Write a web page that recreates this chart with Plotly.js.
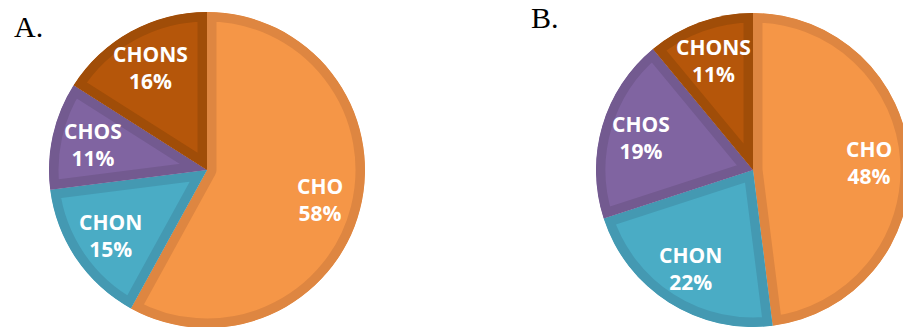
<!DOCTYPE html>
<html>
<head>
<meta charset="utf-8">
<script src="https://cdn.plot.ly/plotly-3.0.1.min.js"></script>
<style>
  html, body { margin: 0; padding: 0; overflow: hidden; background: #ffffff; }
  #chart { width: 920px; height: 330px; }
</style>
</head>
<body>
<div id="chart"></div>
<script>
// Elemental composition classes and their shares (%) in the two samples
const groups  = ['CHO', 'CHON', 'CHOS', 'CHONS'];
const sampleA = [58, 15, 11, 16];
const sampleB = [48, 22, 19, 11];
const panelTags = ['A.', 'B.'];

// Slice fills and their darker inner rims
const fillColors = ['#F59647', '#4AACC5', '#8064A1', '#B5560A'];
const rimColors  = ['#DE8641', '#4499B2', '#735A90', '#A04D08'];

const W = 920, H = 330;

// Pie placement in pixels (centre and radius) for each panel
const panels = [
  { cx: 207, cy: 170, r: 158, values: sampleA, tag: panelTags[0], tagX: 12,  tagY: 45 },
  { cx: 753, cy: 170, r: 157, values: sampleB, tag: panelTags[1], tagX: 529, tagY: 36 }
];

const labelRadius = 0.74;   // label distance from centre, as a share of the radius

const data = [];
const annotations = [];

panels.forEach(p => {
  data.push({
    type: 'pie',
    values: p.values,
    labels: groups,
    sort: false,
    direction: 'clockwise',
    rotation: 0,
    textinfo: 'none',
    hoverinfo: 'none',
    showlegend: false,
    marker: { colors: fillColors, line: { color: rimColors, width: 19 } },
    domain: {
      x: [(p.cx - p.r) / W, (p.cx + p.r) / W],
      y: [1 - (p.cy + p.r) / H, 1 - (p.cy - p.r) / H]
    }
  });

  // slice labels on each slice's bisector
  const total = p.values.reduce((a, b) => a + b, 0);
  let cum = 0;
  p.values.forEach((v, i) => {
    const theta = 2 * Math.PI * (cum + v / 2) / total;
    cum += v;
    const px = p.cx + labelRadius * p.r * Math.sin(theta);
    const py = p.cy - labelRadius * p.r * Math.cos(theta);
    annotations.push({
      xref: 'paper', yref: 'paper',
      x: px / W, y: 1 - py / H,
      xanchor: 'center', yanchor: 'middle',
      showarrow: false,
      text: groups[i] + '<br>' + v + '%',
      font: { family: 'Open Sans, sans-serif', size: 21, weight: 'bold', color: '#ffffff' }
    });
  });

  // panel tag
  annotations.push({
    xref: 'paper', yref: 'paper',
    x: p.tagX / W, y: 1 - p.tagY / H,
    xanchor: 'left', yanchor: 'bottom',
    showarrow: false,
    text: p.tag,
    font: { family: 'Liberation Serif, serif', size: 30, color: '#000000' }
  });
});

const layout = {
  width: W,
  height: H,
  margin: { l: 0, r: 0, t: 0, b: 0, pad: 0 },
  paper_bgcolor: '#ffffff',
  plot_bgcolor: '#ffffff',
  annotations: annotations
};

Plotly.newPlot('chart', data, layout, { staticPlot: true, displayModeBar: false }).then(gd => {
  // keep each slice's rim inside its own wedge: clip the stroked path to itself
  const svgNS = 'http://www.w3.org/2000/svg';
  gd.querySelectorAll('g.slice path.surface').forEach((path, i) => {
    const clip = document.createElementNS(svgNS, 'clipPath');
    clip.setAttribute('id', 'slice-rim-' + i);
    const shape = document.createElementNS(svgNS, 'path');
    shape.setAttribute('d', path.getAttribute('d'));
    clip.appendChild(shape);
    path.parentNode.insertBefore(clip, path);
    path.setAttribute('clip-path', 'url(#slice-rim-' + i + ')');
  });
});
</script>
</body>
</html>
